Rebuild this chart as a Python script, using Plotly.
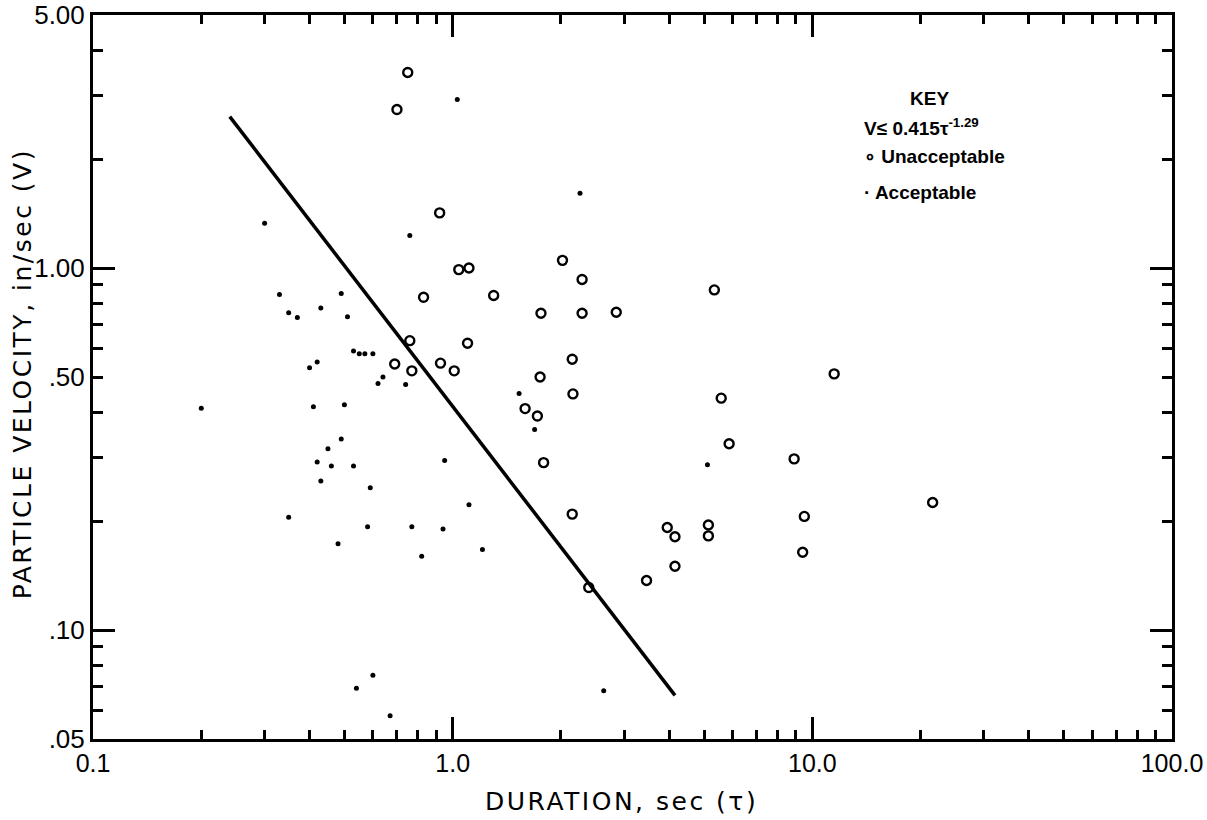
import plotly.graph_objects as go

# ---- data ----
unacc_tau = [0.75, 0.70, 0.92, 2.02, 1.04, 1.11, 2.29, 0.83, 1.30, 2.29, 1.76, 2.85, 5.34,
             0.76, 1.10, 2.15, 0.925, 0.69, 0.77, 1.01, 1.75, 11.5, 2.16, 5.58, 1.59, 1.72,
             5.87, 1.79, 8.9, 2.15, 21.6, 9.5, 3.95, 5.14, 5.14, 4.15, 9.4, 4.15, 3.46, 2.39]
unacc_v = [3.47, 2.74, 1.42, 1.05, 0.99, 1.00, 0.93, 0.83, 0.84, 0.75, 0.75, 0.755, 0.87,
           0.63, 0.62, 0.56, 0.546, 0.543, 0.52, 0.52, 0.50, 0.51, 0.449, 0.437, 0.409, 0.39,
           0.327, 0.29, 0.297, 0.209, 0.225, 0.206, 0.192, 0.195, 0.182, 0.181, 0.164, 0.150,
           0.137, 0.131]

acc_tau = [0.20, 0.30, 0.33, 0.35, 0.37, 0.43, 0.49, 0.51, 0.40, 0.42, 0.53, 0.55, 0.57,
           0.60, 0.62, 0.64, 0.74, 0.76, 0.41, 0.50, 0.45, 0.49, 0.42, 0.46, 0.43, 0.53,
           0.59, 0.35, 0.48, 0.58, 0.77, 0.95, 0.94, 0.82, 1.11, 1.21, 2.26, 1.53, 1.69,
           5.11, 0.54, 0.60, 0.67, 2.63, 1.03]
acc_v = [0.41, 1.33, 0.845, 0.753, 0.73, 0.775, 0.851, 0.734, 0.53, 0.55, 0.59, 0.58, 0.58,
         0.58, 0.48, 0.50, 0.477, 1.23, 0.414, 0.419, 0.317, 0.337, 0.291, 0.284, 0.258,
         0.284, 0.247, 0.205, 0.173, 0.193, 0.193, 0.294, 0.19, 0.16, 0.222, 0.167, 1.61,
         0.45, 0.358, 0.286, 0.069, 0.075, 0.058, 0.068, 2.92]

# criterion line V = 0.415 tau^-1.29, endpoints
line_tau = [0.24, 4.15]
line_v = [2.62, 0.066]

x_ticks = [0.1, 1, 10, 100]
x_ticktext = ["0.1", "1.0", "10.0", "100.0"]
y_ticks = [0.05, 0.1, 0.5, 1, 5]
y_ticktext = [".05", ".10", ".50", "1.00", "5.00"]
x_minor = [m * d for d in (0.1, 1, 10) for m in range(2, 10)]
y_minor = [0.06, 0.07, 0.08, 0.09, 0.2, 0.3, 0.4, 0.6, 0.7, 0.8, 0.9, 2, 3, 4]
x_major_long = [1, 10]
y_major_long = [0.1, 1]

FONT = "DejaVu Sans"
TICK_FONT = "Liberation Sans"
KEY_FONT = "Liberation Sans"
X_RANGE = [-1, 2]
Y_RANGE = [-1.30103, 0.69897]

fig = go.Figure()
fig.add_trace(go.Scatter(x=line_tau, y=line_v, mode="lines",
                         line=dict(color="black", width=3.5), hoverinfo="skip"))
fig.add_trace(go.Scatter(x=unacc_tau, y=unacc_v, mode="markers", name="Unacceptable",
                         marker=dict(symbol="circle-open", size=9, color="black",
                                     line=dict(width=2.4, color="black"))))
fig.add_trace(go.Scatter(x=acc_tau, y=acc_v, mode="markers", name="Acceptable",
                         marker=dict(symbol="circle", size=5, color="black")))
# helper trace for the overlay axes carrying the long major ticks
fig.add_trace(go.Scatter(x=[1], y=[1], xaxis="x2", yaxis="y2", mode="markers",
                         marker=dict(size=1, opacity=0), hoverinfo="skip", showlegend=False))

axis_common = dict(type="log", showgrid=False, zeroline=False, showline=True,
                   linecolor="black", linewidth=3, ticks="inside", tickcolor="black",
                   tickwidth=2.5, mirror="ticks", automargin=False)

fig.update_layout(
    width=1207, height=820,
    margin=dict(l=93, r=35, t=15, b=81),
    paper_bgcolor="white", plot_bgcolor="white",
    showlegend=False,
    font=dict(family=FONT, color="black"),
    xaxis=dict(**axis_common, range=X_RANGE, tickvals=x_ticks, ticktext=x_ticktext,
               ticklen=9, tickfont=dict(size=25, family=TICK_FONT), ticklabeloverflow="allow",
               minor=dict(tickvals=x_minor, ticks="inside", ticklen=9, tickwidth=2.5,
                          tickcolor="black")),
    yaxis=dict(**axis_common, range=Y_RANGE, tickvals=y_ticks, ticktext=y_ticktext,
               ticklen=10, tickfont=dict(size=26, family=TICK_FONT), ticklabeloverflow="allow",
               minor=dict(tickvals=y_minor, ticks="inside", ticklen=10, tickwidth=2.5,
                          tickcolor="black")),
    xaxis2=dict(type="log", range=X_RANGE, overlaying="x", anchor="y2", showgrid=False,
                zeroline=False, showline=False, ticks="inside", ticklen=22, tickwidth=2.5,
                tickcolor="black", tickvals=x_major_long, showticklabels=False, mirror="ticks",
                side="bottom", automargin=False),
    yaxis2=dict(type="log", range=Y_RANGE, overlaying="y", anchor="x2", showgrid=False,
                zeroline=False, showline=False, ticks="inside", ticklen=22, tickwidth=2.5,
                tickcolor="black", tickvals=y_major_long, showticklabels=False, mirror="ticks",
                side="left", automargin=False),
)

# axis titles
fig.add_annotation(x=0.49, y=-0.087, xref="paper", yref="paper",
                   text="<span style='letter-spacing:2.5px'>DURATION, sec (\u03c4)</span>",
                   showarrow=False,
                   font=dict(family=FONT, size=25), xanchor="center", yanchor="middle")
fig.add_annotation(x=-0.065, y=0.505, xref="paper", yref="paper",
                   text="<span style='letter-spacing:2.5px'>PARTICLE VELOCITY, in/sec (V)</span>",
                   showarrow=False, textangle=-90,
                   font=dict(family=FONT, size=25), xanchor="center", yanchor="middle")

key_font = dict(family=KEY_FONT, size=19, color="black")
fig.add_annotation(x=0.775, y=0.884, xref="paper", yref="paper", text="<b>KEY</b>",
                   showarrow=False, font=key_font, xanchor="center", yanchor="middle")
fig.add_annotation(x=0.7127, y=0.845, xref="paper", yref="paper",
                   text="<b>V\u2264 0.415\u03c4<sup>-1.29</sup></b>",
                   showarrow=False, font=key_font, xanchor="left", yanchor="middle")
fig.add_annotation(x=0.7127, y=0.805, xref="paper", yref="paper",
                   text="<b>\u2218 Unacceptable</b>",
                   showarrow=False, font=key_font, xanchor="left", yanchor="middle")
fig.add_annotation(x=0.7127, y=0.755, xref="paper", yref="paper",
                   text="<b>\u00b7 Acceptable</b>",
                   showarrow=False, font=key_font, xanchor="left", yanchor="middle")

fig.write_html("out.html", config={"displayModeBar": False},
               post_script="document.body.style.margin='0px';")
